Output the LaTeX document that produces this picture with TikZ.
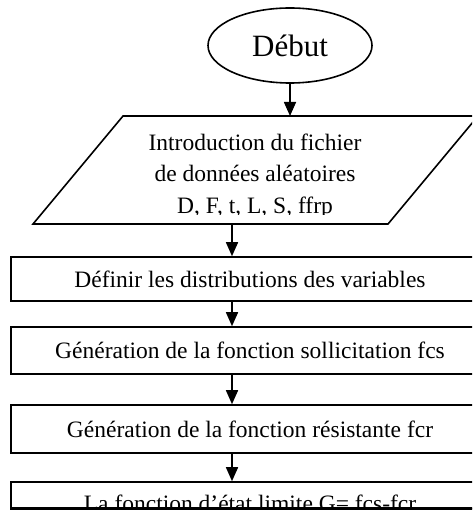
\documentclass[tikz,border=0pt]{standalone}
\usepackage{fontspec}
\setmainfont{Liberation Serif}
\usetikzlibrary{arrows.meta,shapes.geometric}
\begin{document}
\begin{tikzpicture}[x=1pt,y=-1pt,
  line width=1.6pt,
  arr/.style={-{Triangle[width=12pt,length=14pt]}},
  stepbox/.style={draw,rectangle,minimum width=478pt,inner sep=0pt,font=\fontsize{23.5}{28}\selectfont},
  txt/.style={inner sep=0pt,align=center,font=\fontsize{23.5}{31.5}\selectfont}]
\useasboundingbox (0,0) rectangle (472,510);
\clip (0,0) rectangle (472,510);
% start
\node[draw,ellipse,minimum width=164pt,minimum height=75pt,inner sep=0pt,font=\fontsize{31}{36}\selectfont] (debut) at (290,45.5) {Début};
% parallelogram
\coordinate (pTL) at (123,116);
\coordinate (pTR) at (478,116);
\coordinate (pBR) at (388,224);
\coordinate (pBL) at (33,224);
\draw (pTL) -- (pTR) -- (pBR) -- (pBL) -- cycle;
\coordinate (pIn) at (290,116);
\coordinate (pOut) at (232,224);
\begin{scope}
\clip (0,116) rectangle (472,214.5);
\node[txt] (intro) at (255,176) {Introduction du fichier\\de données aléatoires\\D, F, t, L, S, ffrp};
\end{scope}
% boxes
\node[stepbox,minimum height=44pt] (b1) at (250,279) {Définir les distributions des variables};
\node[stepbox,minimum height=47pt] (b2) at (250,350.5) {Génération de la fonction sollicitation fcs};
\node[stepbox,minimum height=48pt] (b3) at (250,429) {Génération de la fonction résistante fcr};
\node[stepbox,minimum height=26pt,text depth=0pt,text height=0pt] (b4) at (250,495) {};
\node[inner sep=0pt,anchor=base,font=\fontsize{23.5}{28}\selectfont] (b4t) at (250,511) {La fonction d’état limite G= fcs-fcr};
\draw (b4.south west) -- (b4.south east);
% connectors
\draw[arr] (debut.south) -- (pIn);
\draw[arr] (pOut) -- ([xshift=-18pt]b1.north);
\draw[arr] ([xshift=-18pt]b1.south) -- ([xshift=-18pt]b2.north);
\draw[arr] ([xshift=-18pt]b2.south) -- ([xshift=-18pt]b3.north);
\draw[arr] ([xshift=-18pt]b3.south) -- ([xshift=-18pt]b4.north);
\end{tikzpicture}
\end{document}
